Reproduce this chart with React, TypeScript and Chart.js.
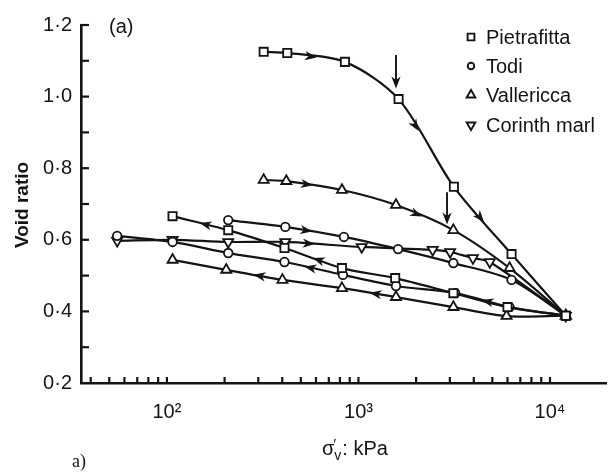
import React, { useEffect, useRef } from 'react';
import { Chart, registerables } from 'chart.js';

Chart.register(...registerables);

const INK = '#141414';
const FONT = "'Liberation Sans', Arial, sans-serif";

// Legend entries
const seriesNames = ['Pietrafitta', 'Todi', 'Vallericca', 'Corinth marl'];

// Vertical effective stress (kPa) and void ratio
const pietrafittaLoadStress = [320, 425, 850, 1620, 3150, 6300, 12100];
const pietrafittaLoadVoid = [1.125, 1.122, 1.097, 0.993, 0.748, 0.56, 0.388];
const pietrafittaUnloadStress = [107, 209, 411, 820, 1555, 3130, 6000, 12100];
const pietrafittaUnloadVoid = [0.666, 0.627, 0.577, 0.521, 0.493, 0.451, 0.412, 0.388];

const todiLoadStress = [209, 415, 840, 1610, 3130, 6300, 12100];
const todiLoadVoid = [0.655, 0.636, 0.608, 0.574, 0.535, 0.488, 0.388];
const todiUnloadStress = [55, 107, 209, 411, 830, 1570, 3200, 6150, 12100];
const todiUnloadVoid = [0.611, 0.594, 0.563, 0.538, 0.502, 0.471, 0.451, 0.412, 0.388];

const vallericcaLoadStress = [320, 420, 820, 1570, 3130, 6150, 12100];
const vallericcaLoadVoid = [0.767, 0.764, 0.739, 0.697, 0.627, 0.521, 0.388];
const vallericcaUnloadStress = [107, 204, 401, 820, 1570, 3130, 5930, 12100];
const vallericcaUnloadVoid = [0.544, 0.516, 0.488, 0.465, 0.44, 0.412, 0.387, 0.388];

const corinthLoadStress = [55, 107, 209, 415, 1040, 2440, 3010, 3960, 4850, 12100];
const corinthLoadVoid = [0.597, 0.6, 0.594, 0.594, 0.58, 0.572, 0.566, 0.549, 0.538, 0.388];

// Axis ticks
const xTickValues = [
  40, 50, 60, 70, 80, 90, 100, 200, 300, 400, 500, 600, 700, 800, 900, 1000,
  2000, 3000, 4000, 5000, 6000, 7000, 8000, 9000, 10000,
];
const xTickLabels: Record<number, string> = { 100: '10²', 1000: '10³', 10000: '10⁴' };
const yTickValues = [0.2, 0.3, 0.4, 0.5, 0.6, 0.7, 0.8, 0.9, 1.0, 1.1, 1.2];
const yLabelledTicks = ['0·2', '', '0·4', '', '0·6', '', '0·8', '', '1·0', '', '1·2'];

// Direction arrows on the curves (dataset, segment, fraction along it, direction: +1 towards higher stress)
const arrowDataset = [0, 0, 0, 2, 4, 4, 6, 1, 1, 3, 3, 5, 5];
const arrowSegment = [1, 3, 4, 1, 1, 3, 3, 0, 2, 3, 6, 1, 3];
const arrowFraction = [0.4, 0.3, 0.45, 0.35, 0.36, 0.35, 0.3, 0.6, 0.6, 0.45, 0.6, 0.6, 0.63];
const arrowDirection = [1, 1, 1, 1, 1, 1, 1, -1, -1, -1, -1, -1, -1];

// Yield-point markers (vertical arrows)
const yieldArrowStress = [1570, 2900];
const yieldArrowFrom = [1.116, 0.733];
const yieldArrowTo = [1.027, 0.647];

type Marker = { style: string; radius: number; rotation: number };
const markers: Marker[] = [
  { style: 'rect', radius: 5.8, rotation: 0 },
  { style: 'circle', radius: 4.3, rotation: 0 },
  { style: 'triangle', radius: 5.8, rotation: 0 },
  { style: 'triangle', radius: 5.8, rotation: 180 },
];

function pts(xs: number[], ys: number[]) {
  return xs.map((v, i) => ({ x: v, y: ys[i] }));
}

function makeDataset(label: string, xs: number[], ys: number[], m: Marker) {
  return {
    label,
    data: pts(xs, ys),
    borderColor: INK,
    borderWidth: 2.2,
    tension: 0.3,
    fill: false,
    pointStyle: m.style,
    pointRadius: m.radius,
    pointRotation: m.rotation,
    pointBorderWidth: 1.8,
    pointBorderColor: INK,
    pointBackgroundColor: '#ffffff',
  };
}

function drawArrowHead(ctx: CanvasRenderingContext2D, px: number, py: number, angle: number) {
  ctx.save();
  ctx.translate(px, py);
  ctx.rotate(angle);
  ctx.beginPath();
  ctx.moveTo(6.5, 0);
  ctx.lineTo(-5.5, -4.6);
  ctx.lineTo(-2, 0);
  ctx.lineTo(-5.5, 4.6);
  ctx.closePath();
  ctx.fill();
  ctx.restore();
}

function drawMarker(ctx: CanvasRenderingContext2D, m: Marker, cx: number, cy: number, r: number) {
  ctx.beginPath();
  if (m.style === 'rect') {
    const s = r * Math.SQRT1_2;
    ctx.rect(cx - s, cy - s, 2 * s, 2 * s);
  } else if (m.style === 'circle') {
    ctx.arc(cx, cy, r, 0, Math.PI * 2);
  } else {
    let rad = (m.rotation * Math.PI) / 180;
    ctx.moveTo(cx + Math.sin(rad) * r, cy - Math.cos(rad) * r);
    rad += (2 * Math.PI) / 3;
    ctx.lineTo(cx + Math.sin(rad) * r, cy - Math.cos(rad) * r);
    rad += (2 * Math.PI) / 3;
    ctx.lineTo(cx + Math.sin(rad) * r, cy - Math.cos(rad) * r);
    ctx.closePath();
  }
  ctx.fillStyle = '#fff';
  ctx.fill();
  ctx.stroke();
}

const overlayPlugin = {
  id: 'overlay',
  beforeDraw(chart: any) {
    const { ctx } = chart;
    ctx.save();
    ctx.fillStyle = '#ffffff';
    ctx.fillRect(0, 0, chart.width, chart.height);
    ctx.restore();
  },
  afterDraw(chart: any) {
    const { ctx, chartArea } = chart;
    const xs = chart.scales.x;
    const ys = chart.scales.y;
    ctx.save();
    ctx.strokeStyle = INK;
    ctx.fillStyle = INK;
    ctx.lineWidth = 2.2;

    // inward tick marks
    for (const v of yTickValues) {
      if (v <= 0.2) continue;
      const py = ys.getPixelForValue(v);
      ctx.beginPath();
      ctx.moveTo(chartArea.left, py);
      ctx.lineTo(chartArea.left + 8, py);
      ctx.stroke();
    }
    for (const v of xTickValues) {
      const px = xs.getPixelForValue(v);
      ctx.beginPath();
      ctx.moveTo(px, chartArea.bottom);
      ctx.lineTo(px, chartArea.bottom - 6);
      ctx.stroke();
    }

    // direction arrows
    for (let i = 0; i < arrowDataset.length; i++) {
      const meta = chart.getDatasetMeta(arrowDataset[i]);
      const p0 = meta.data[arrowSegment[i]];
      const p1 = meta.data[arrowSegment[i] + 1];
      const t = arrowFraction[i];
      const px = p0.x + (p1.x - p0.x) * t;
      const py = p0.y + (p1.y - p0.y) * t;
      let ang = Math.atan2(p1.y - p0.y, p1.x - p0.x);
      if (arrowDirection[i] < 0) ang += Math.PI;
      drawArrowHead(ctx, px, py, ang);
    }

    // yield arrows
    for (let i = 0; i < yieldArrowStress.length; i++) {
      const px = xs.getPixelForValue(yieldArrowStress[i]);
      const y0 = ys.getPixelForValue(yieldArrowFrom[i]);
      const y1 = ys.getPixelForValue(yieldArrowTo[i]);
      ctx.lineWidth = 1.9;
      ctx.beginPath();
      ctx.moveTo(px, y0);
      ctx.lineTo(px, y1 - 4);
      ctx.stroke();
      drawArrowHead(ctx, px, y1 - 5, Math.PI / 2);
    }

    // legend
    ctx.lineWidth = 1.9;
    ctx.font = `20px ${FONT}`;
    ctx.textBaseline = 'middle';
    ctx.textAlign = 'left';
    const rowsY = [37, 66, 95, 125];
    const legendR = [4.8, 3.3, 5, 5];
    seriesNames.forEach((name, i) => {
      ctx.strokeStyle = INK;
      drawMarker(ctx, markers[i], 471, rowsY[i], legendR[i]);
      ctx.fillStyle = INK;
      ctx.fillText(name, 486, rowsY[i] + 1);
    });

    // panel tag
    ctx.fillStyle = INK;
    ctx.font = `20px ${FONT}`;
    ctx.textAlign = 'left';
    ctx.fillText('(a)', 109, 27);

    // y title
    ctx.save();
    ctx.translate(23, 205);
    ctx.rotate(-Math.PI / 2);
    ctx.textAlign = 'center';
    ctx.font = `bold 19px ${FONT}`;
    ctx.fillText('Void ratio', 0, 0);
    ctx.restore();

    // x title: σ'v: kPa
    ctx.textAlign = 'left';
    ctx.textBaseline = 'alphabetic';
    const bx = 322;
    const by = 455;
    ctx.font = `20px ${FONT}`;
    ctx.fillText('σ', bx, by);
    const sw = ctx.measureText('σ').width;
    ctx.font = `15px ${FONT}`;
    ctx.fillText('′', bx + sw - 1, by - 6);
    ctx.font = `14px ${FONT}`;
    ctx.fillText('v', bx + sw, by + 5);
    const vw = ctx.measureText('v').width;
    ctx.font = `20px ${FONT}`;
    ctx.fillText(': kPa', bx + sw + vw + 1, by);

    // caption
    ctx.font = `18px 'Liberation Serif', 'Times New Roman', serif`;
    ctx.fillText('a)', 72, 467);

    ctx.restore();
  },
};

export default function App() {
  const canvasRef = useRef<HTMLCanvasElement | null>(null);

  useEffect(() => {
    if (!canvasRef.current) return;
    Chart.defaults.font.family = FONT;
    const chart = new Chart(canvasRef.current, {
      type: 'line',
      data: {
        datasets: [
          makeDataset('Pietrafitta', pietrafittaLoadStress, pietrafittaLoadVoid, markers[0]),
          makeDataset('Pietrafitta unloading', pietrafittaUnloadStress, pietrafittaUnloadVoid, markers[0]),
          makeDataset('Todi', todiLoadStress, todiLoadVoid, markers[1]),
          makeDataset('Todi unloading', todiUnloadStress, todiUnloadVoid, markers[1]),
          makeDataset('Vallericca', vallericcaLoadStress, vallericcaLoadVoid, markers[2]),
          makeDataset('Vallericca unloading', vallericcaUnloadStress, vallericcaUnloadVoid, markers[2]),
          makeDataset('Corinth marl', corinthLoadStress, corinthLoadVoid, markers[3]),
        ] as any,
      },
      options: {
        animation: false,
        responsive: false,
        maintainAspectRatio: false,
        devicePixelRatio: 1,
        layout: { padding: { top: 25, right: 1, left: 0, bottom: 0 } },
        plugins: {
          legend: { display: false },
          tooltip: { enabled: false },
        },
        scales: {
          x: {
            type: 'logarithmic',
            min: 35.6,
            max: 19700,
            grid: { display: false, drawTicks: false },
            border: { display: true, color: INK, width: 2.6 },
            afterBuildTicks: (s: any) => {
              s.ticks = xTickValues.map((v) => ({ value: v }));
            },
            afterFit: (s: any) => {
              s.height = 91;
            },
            ticks: {
              autoSkip: false,
              maxRotation: 0,
              minRotation: 0,
              padding: 17,
              color: INK,
              font: { size: 20, family: FONT },
              callback: (v: any) => xTickLabels[Number(v)] || '',
            },
          },
          y: {
            type: 'linear',
            min: 0.2,
            max: 1.2,
            grid: { display: false, drawTicks: false },
            border: { display: true, color: INK, width: 2.6 },
            afterBuildTicks: (s: any) => {
              s.ticks = yTickValues.map((v) => ({ value: v }));
            },
            afterFit: (s: any) => {
              s.width = 81;
            },
            ticks: {
              autoSkip: false,
              padding: 9,
              color: INK,
              font: { size: 20, family: FONT },
              callback: (_v: any, i: number) => yLabelledTicks[i] || '',
            },
          },
        },
      } as any,
      plugins: [overlayPlugin],
    });
    return () => chart.destroy();
  }, []);

  return (
    <div style={{ position: 'fixed', left: 0, top: 0, width: 614, height: 474, background: '#fff' }}>
      <canvas ref={canvasRef} width={614} height={474} style={{ display: 'block' }} />
    </div>
  );
}
